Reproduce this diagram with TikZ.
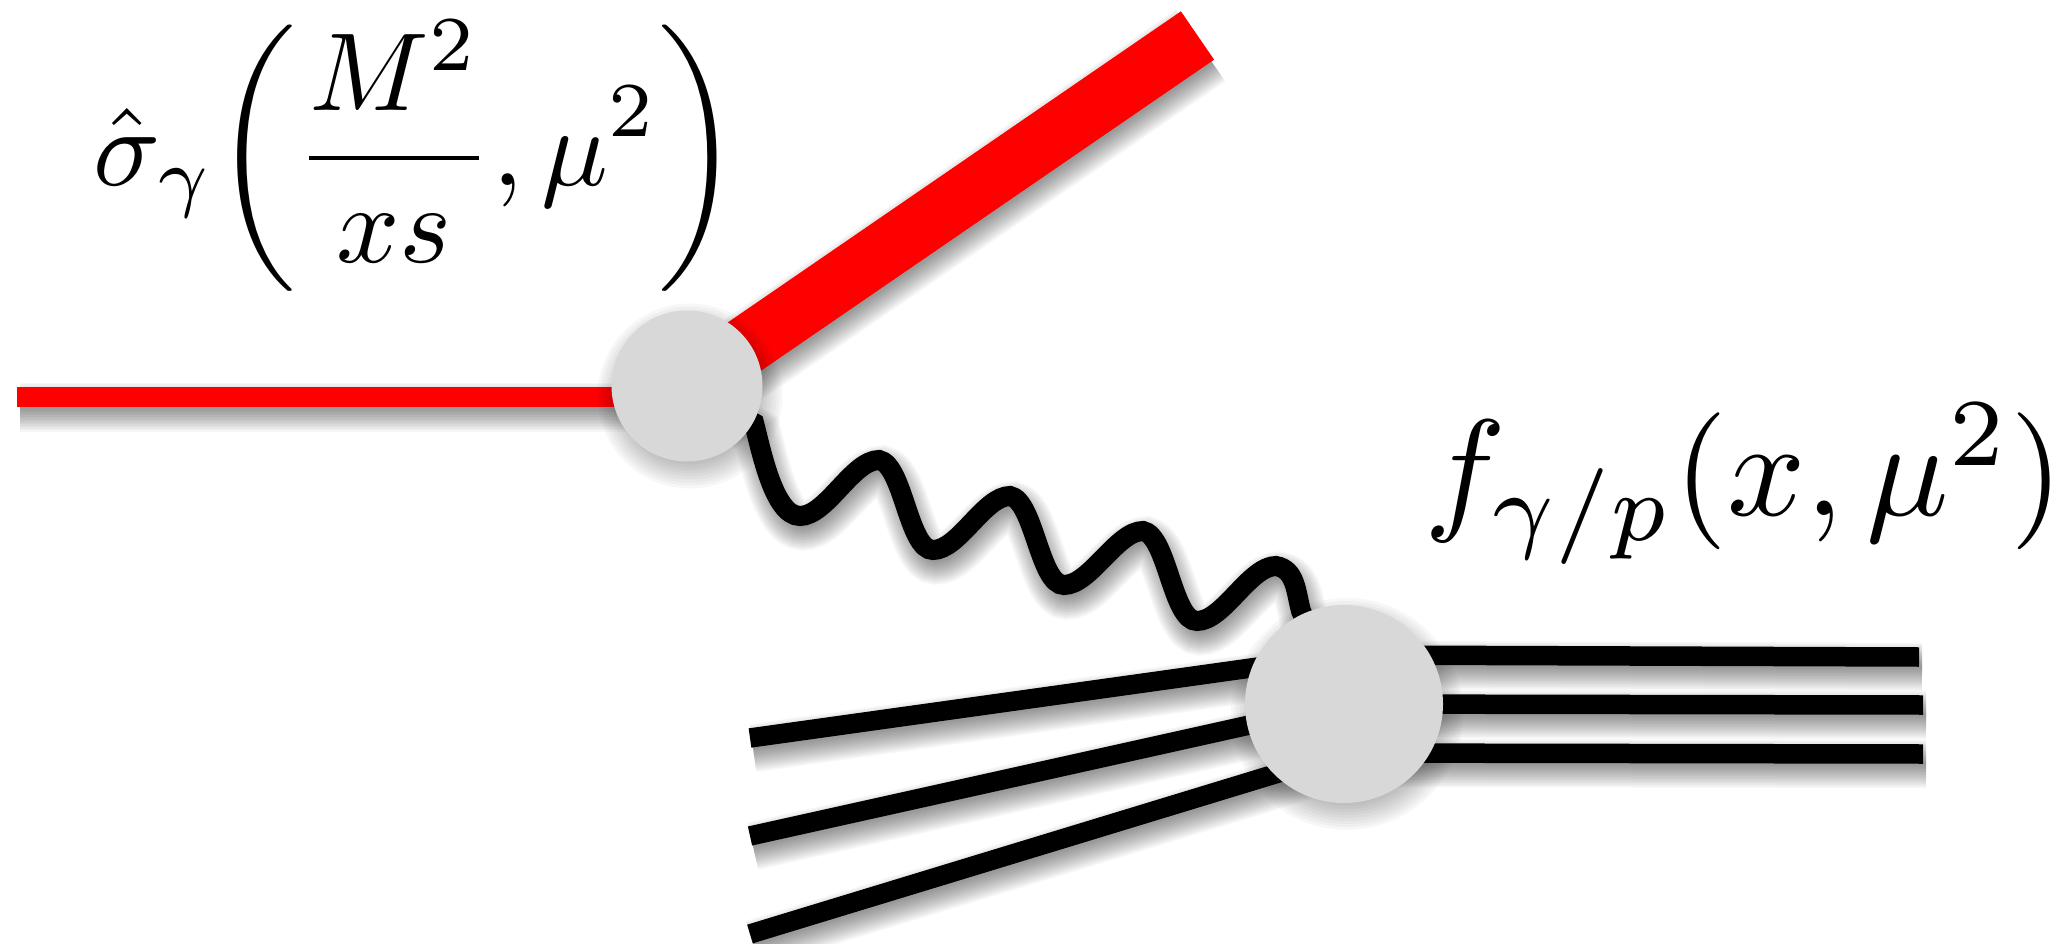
\documentclass[tikz,border=0pt]{standalone}
\usepackage{amsmath}
\definecolor{vertexgrey}{HTML}{D8D8D8}
\tikzset{
  shadowlayer/.style={preaction={draw=black,draw opacity=.03,line width={#1},
    transform canvas={xshift=3pt,yshift=-10pt}}},
  softline/.style={shadowlayer/.list={#1-16pt,#1-13pt,#1-10pt,#1-7pt,#1-4pt,#1-1pt,#1+2pt,
    #1+5pt,#1+8pt,#1+11pt,#1+14pt,#1+17pt,#1+20pt,#1+23pt,#1+26pt,#1+29pt}},
  vertex/.style={circle,fill=vertexgrey,inner sep=0pt,outer sep=0pt},
  discshadow/.style={fill=black,fill opacity=.03},
  lepton/.style={draw=red,line width=#1,softline=#1},
  quark/.style={draw=black,line width=19.5pt,softline=19.5pt},
  photon/.style={draw=black,line width=20pt,softline=20pt},
}
\begin{document}
\begin{tikzpicture}[x=1pt,y=-1pt]
    \useasboundingbox (0,0) rectangle (2066,944);
    \coordinate (hard) at (687,386);
    \coordinate (soft) at (1344,704);
    \coordinate (beam) at (17,397);
    \coordinate (jet) at (1197.5,35.5);
    % proton remnants
    \foreach \name/\ya/\yb/\xb/\yc in {a/738/655/1919/657, b/836/704/1923/705, c/934/753/1923/754} {
      \coordinate (in\name) at (750,\ya);
      \coordinate (out\name) at (\xb,\yc);
      \draw[quark] (in\name) -- (1344,\yb) -- (out\name);
    }
    % photon
    \draw[photon] (hard) -- (754,423)
      to[out=-75,in=180,looseness=.65] (800,516)
      to[out=0,in=180,looseness=.7] (879,460)
      to[out=-10,in=180,looseness=.6] (933,550)
      to[out=0,in=180,looseness=.7] (1010,496)
      to[out=-10,in=180,looseness=.6] (1064,585)
      to[out=0,in=180,looseness=.7] (1143,531)
      to[out=-10,in=180,looseness=.6] (1197,621)
      to[out=0,in=180,looseness=.7] (1276,566)
      to[out=-10,in=105] (1301,611) -- (soft);
    % lepton lines
    \draw[lepton=20pt] (beam) -- (beam -| hard);
    \draw[lepton=58.6pt] (hard) -- (jet);
    % blobs
    \foreach \d in {-10,-7,-4,-1,2,5,8,11,14,17} {
      \fill[discshadow] ([shift={(3,10)}]hard) circle ({75.5+\d});
      \fill[discshadow] ([shift={(3,10)}]soft) circle ({99+\d});
    }
    \node[vertex,minimum size=151pt] (hardblob) at (hard) {};
    \node[vertex,minimum size=198pt] (softblob) at (soft) {};
    \node[scale=11.1] (sigmalabel) at (417,156) {$\displaystyle \hat\sigma_\gamma\!\left(\frac{M^2}{xs},\mu^{\raisebox{.3pt}{$\scriptstyle 2$}}\right)$};
    \node[scale=13.7] (fluxlabel) at (1744,484) {$f_{\gamma/p}(x,\mu^2)$};
  \end{tikzpicture}
\end{document}
